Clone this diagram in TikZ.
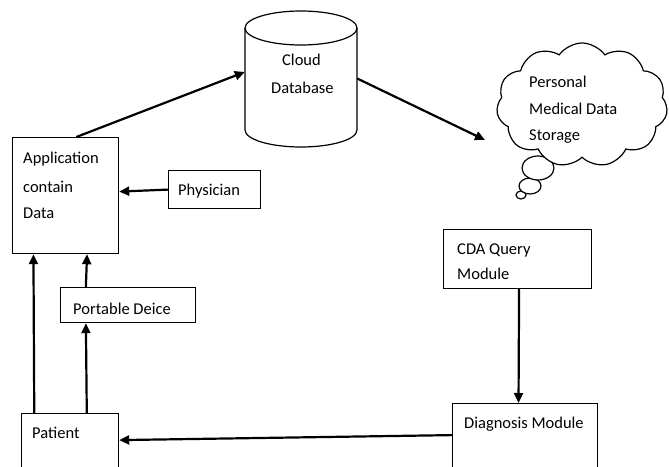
\documentclass[tikz,border=0pt]{standalone}
\usepackage{fontspec}
\setmainfont{Carlito}
\usetikzlibrary{shapes.geometric,shapes.symbols,arrows.meta,calc}
\begin{document}
\begin{tikzpicture}[x=1pt,y=-1pt,
 box/.style={draw,line width=1.2pt,rectangle,inner sep=0pt,anchor=north west},
 lbl/.style={anchor=west,inner sep=0pt,font=\fontsize{16.5}{19}\selectfont},
 bub/.style={draw,fill=white,line width=1.2pt},
 arr/.style={line width=2.2pt,-{Triangle[length=10pt,width=9pt]}}]
\path[use as bounding box,fill=white] (0,0) rectangle (669,466);
% boxes
\node[box,minimum width=106pt,minimum height=116pt] (app) at (12,137) {};
\node[box,minimum width=92pt,minimum height=38pt] (phys) at (168,170) {};
\node[box,minimum width=135pt,minimum height=35pt] (port) at (60,287) {};
\node[box,minimum width=97pt,minimum height=55pt] (pat) at (21,413) {};
\node[box,minimum width=148pt,minimum height=59pt] (cda) at (443,229) {};
\node[box,minimum width=145pt,minimum height=65pt] (diag) at (452,403) {};
% cylinder
\node[inner sep=0pt,minimum width=112pt,minimum height=137pt] (db) at (301,78.5) {};
\draw[line width=1.2pt] (245,28) arc[start angle=180,end angle=-180,x radius=56,y radius=17];
\draw[line width=1.2pt] (245,28) -- (245,130) arc[start angle=180,end angle=360,x radius=56,y radius=-17] -- (357,28);
% thought bubbles
\path[bub] (521,195) ellipse[x radius=5,y radius=4];
\path[bub] (530,186) ellipse[x radius=11,y radius=8];
\path[bub] (538,168) ellipse[x radius=16,y radius=12];
% cloud
\node[cloud,draw,fill=white,line width=1.2pt,cloud puffs=11,cloud puff arc=110,cloud ignores aspect,
  minimum width=171pt,minimum height=124pt,inner sep=0pt] (cl) at (582,105) {};
% labels
\node[lbl] (tapp1) at (23,159) {Application};
\node[lbl] (tapp2) at (23,187) {contain};
\node[lbl] (tapp3) at (23,213) {Data};
\node[lbl] (tphys) at (178,191) {Physician};
\node[lbl] (tport) at (73,309) {Portable Deice};
\node[lbl] (tpat) at (32,433) {Patient};
\node[lbl] (tcda1) at (457,250) {CDA Query};
\node[lbl] (tcda2) at (457,274) {Module};
\node[lbl] (tdiag) at (464,424) {Diagnosis Module};
\node[lbl] (tdb1) at (282,60) {Cloud};
\node[lbl] (tdb2) at (271,88) {Database};
\node[lbl] (tcl1) at (529,82) {Personal};
\node[lbl] (tcl2) at (529,109) {Medical Data};
\node[lbl] (tcl3) at (529,137) {Storage};
% connectors
\coordinate (clin) at (485,140);
\draw[arr] ($(app.north west)!0.6!(app.north east)$) -- ([yshift=6.5pt]db.west);
\draw[arr] (db.east) -- (clin);
\draw[arr] (phys.west) -- ([yshift=4pt]app.east);
\draw[arr] ($(port.north west)!0.19!(port.north east)$) -- ($(app.south west)!0.7!(app.south east)$);
\draw[arr] ($(pat.north west)!0.67!(pat.north east)$) -- ($(port.south west)!0.19!(port.south east)$);
\draw[arr] ($(pat.north west)!0.135!(pat.north east)$) -- ($(app.south west)!0.2!(app.south east)$);
\draw[arr] ($(cda.south west)!0.51!(cda.south east)$) -- ($(diag.north west)!0.455!(diag.north east)$);
\draw[arr] ([yshift=1pt]diag.west) -- ([yshift=1pt]pat.east);
\end{tikzpicture}
\end{document}
